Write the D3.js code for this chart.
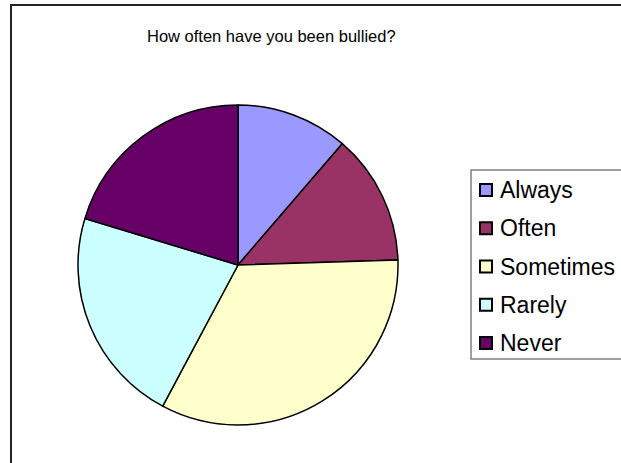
<!DOCTYPE html>
<html>
<head>
<meta charset="utf-8">
<script src="https://cdn.jsdelivr.net/npm/d3@7"></script>
<style>
  body { margin: 0; background: #fff; }
  svg { display: block; font-family: "Liberation Sans", Arial, sans-serif; }
</style>
</head>
<body>
<div id="chart"></div>
<script>
const title = 'How often have you been bullied?';
const categories = ['Always', 'Often', 'Sometimes', 'Rarely', 'Never'];
const values = [11.3, 13.2, 33.3, 21.9, 20.3];
const colors = ['#9999FF', '#993366', '#FFFFCC', '#CCFFFF', '#660066'];

const width = 621;
const height = 463;
const data = categories.map((c, i) => ({ category: c, value: values[i] }));

const svg = d3.select('#chart').append('svg').attr('width', width).attr('height', height);

// chart frame (cropped at right and bottom)
svg.append('rect')
  .attr('x', 11).attr('y', 5)
  .attr('width', width + 20).attr('height', height + 20)
  .attr('fill', '#fff')
  .attr('stroke', '#222')
  .attr('stroke-width', 2);

svg.append('text')
  .attr('x', 147)
  .attr('y', 42)
  .attr('font-size', 16.5)
  .attr('fill', '#000')
  .text(title);

const color = d3.scaleOrdinal().domain(categories).range(colors);
const pie = d3.pie().value((d) => d.value).sort(null);
const arc = d3.arc().innerRadius(0).outerRadius(160);

const g = svg.append('g').attr('transform', 'translate(238,265)');
g.selectAll('path')
  .data(pie(data))
  .join('path')
  .attr('d', arc)
  .attr('fill', (d) => color(d.data.category))
  .attr('stroke', '#000')
  .attr('stroke-width', 1.5)
  .attr('stroke-linejoin', 'round');

// legend
const legend = svg.append('g').attr('transform', 'translate(471,170)');
legend.append('rect')
  .attr('x', 0).attr('y', 0)
  .attr('width', 170).attr('height', 189)
  .attr('fill', '#fff')
  .attr('stroke', '#808080')
  .attr('stroke-width', 1.5);

const ly = d3.scalePoint().domain(categories).range([20, 173]);
const item = legend.selectAll('.item')
  .data(categories)
  .join('g')
  .attr('class', 'item')
  .attr('transform', (d) => `translate(0,${ly(d)})`);

item.append('rect')
  .attr('x', 9).attr('y', -6)
  .attr('width', 12).attr('height', 12)
  .attr('fill', (d) => color(d))
  .attr('stroke', '#000')
  .attr('stroke-width', 2);

item.append('text')
  .attr('x', 29)
  .attr('y', 8)
  .attr('font-size', 23)
  .attr('fill', '#000')
  .text((d) => d);
</script>
</body>
</html>
